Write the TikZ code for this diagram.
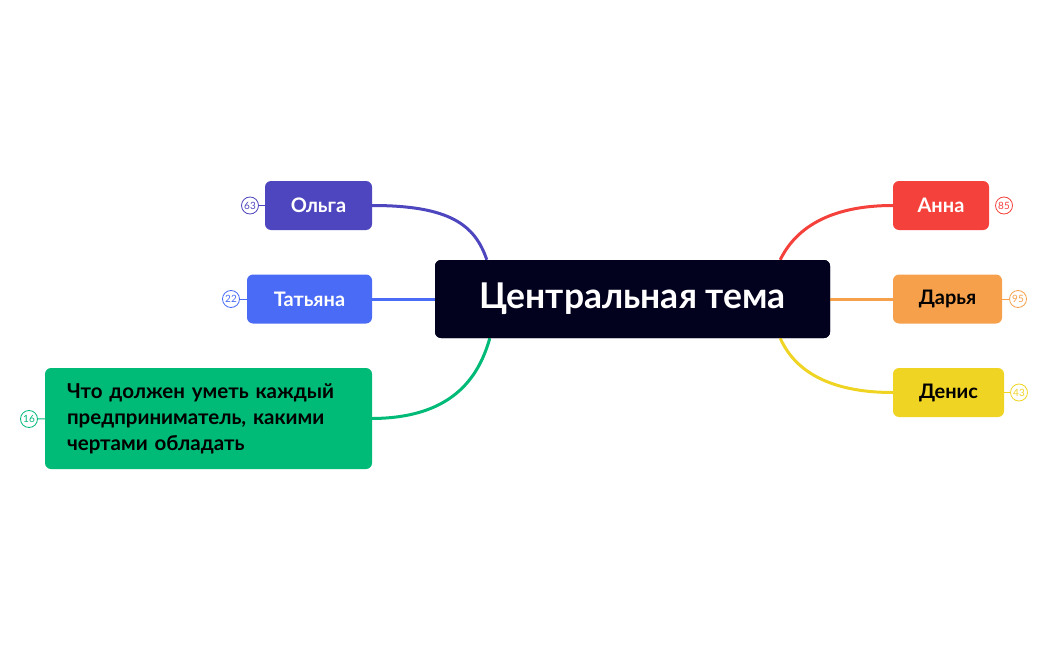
\documentclass[tikz,border=0pt]{standalone}
\usepackage{fontspec}
\setmainfont{Lato}
\usetikzlibrary{calc}
\definecolor{cnavy}{HTML}{02021F}
\definecolor{colga}{HTML}{4E46BF}
\definecolor{ctat}{HTML}{4A6BF6}
\definecolor{cgreen}{HTML}{00BA78}
\definecolor{canna}{HTML}{F5413B}
\definecolor{cdar}{HTML}{F6A04B}
\definecolor{cden}{HTML}{EFD424}
\tikzset{x=1pt,y=-1pt,
 box/.style={rectangle,rounded corners=6pt,inner sep=0pt,font=\fontsize{20}{24}\selectfont\bfseries},
 badge/.style={circle,draw=#1,fill=white,line width=0.8pt,minimum size=17pt,inner sep=0pt,text=#1,font=\fontsize{10}{10}\selectfont},
 link/.style={draw=#1,line width=3pt}}
\begin{document}
\begin{tikzpicture}
\useasboundingbox (0,0) rectangle (1049,650);
\node[box,fill=cnavy,text=white,minimum width=395pt,minimum height=78pt,font=\fontsize{35.5}{38}\selectfont\bfseries] (c) at (632.5,299) {Центральная тема};
\node[box,fill=colga,text=white,minimum width=107pt,minimum height=49pt] (o) at (318.5,205.5) {Ольга};
\node[box,fill=ctat,text=white,minimum width=125pt,minimum height=49pt] (t) at (309.5,299) {Татьяна};
\node[box,fill=cgreen,text=black,minimum width=327pt,minimum height=101pt,align=left,font=\fontsize{20.5}{26}\selectfont\bfseries,text width=283pt] (g) at (208.5,418.5) {Что должен уметь каждый\\предприниматель, какими\\чертами обладать};
\node[box,fill=canna,text=white,minimum width=96pt,minimum height=49pt] (a) at (941,205.5) {Анна};
\node[box,fill=cdar,text=black,minimum width=109pt,minimum height=49pt] (d) at (947.5,299) {Дарья};
\node[box,fill=cden,text=black,minimum width=111pt,minimum height=49pt] (e) at (948.5,392.5) {Денис};
\draw[link=colga] (o.east) .. controls (450,205.5) and (475,225) .. ($(c.north west)+(52,0)$);
\draw[link=ctat] (t.east) -- (c.west |- t.east);
\draw[link=cgreen] (g.east) .. controls (450,418) and (478,380) .. ($(c.south west)+(55,0)$);
\draw[link=canna] ($(c.north east)+(-50,0)$) .. controls (790,240) and (815,205.5) .. (a.west);
\draw[link=cdar] (c.east |- d.west) -- (d.west);
\draw[link=cden] ($(c.south east)+(-50,0)$) .. controls (790,360) and (815,392.5) .. (e.west);
\node[box,fill=cnavy,text=white,minimum width=395pt,minimum height=78pt,font=\fontsize{35.5}{38}\selectfont\bfseries] at (c) {Центральная тема};
\node[badge=colga] (bo) at (250,205.5) {63};
\node[badge=ctat] (bt) at (231,299) {22};
\node[badge=cgreen] (bg) at (29,419) {16};
\node[badge=canna] (ba) at (1004,205.5) {85};
\node[badge=cdar] (bd) at (1018,299) {95};
\node[badge=cden] (be) at (1019,392.5) {43};
\draw[colga,line width=1pt] (bo) -- (o);
\draw[ctat,line width=1pt] (bt) -- (t);
\draw[cgreen,line width=1pt] (bg) -- (g);
\draw[cdar,line width=1pt] (d) -- (bd);
\draw[cden,line width=1pt] (e) -- (be);
\end{tikzpicture}
\end{document}
